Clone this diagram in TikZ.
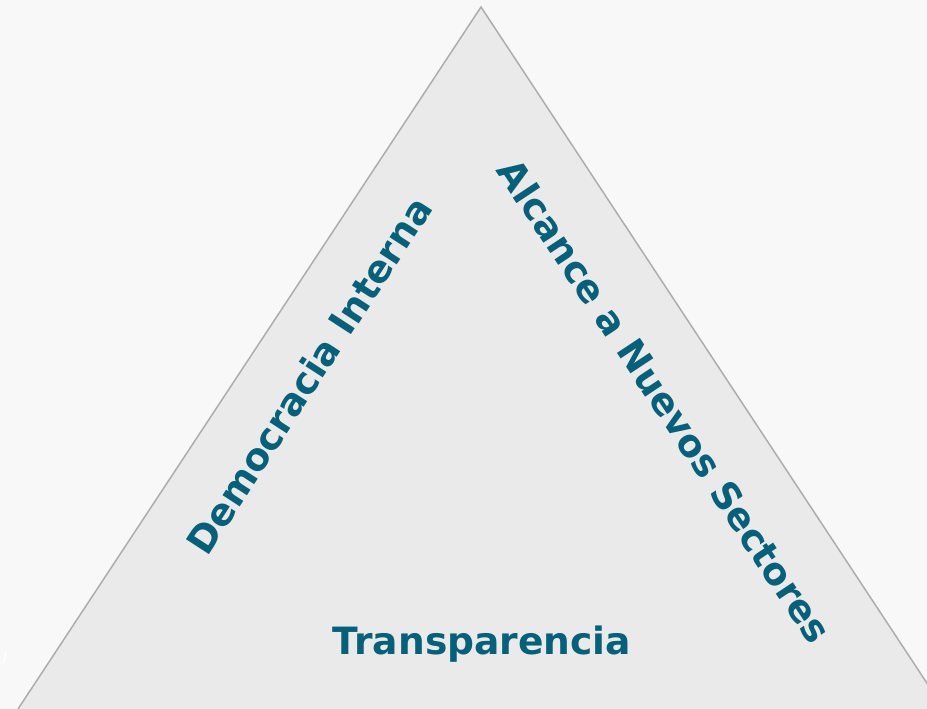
\documentclass[tikz,border=0pt]{standalone}
\usepackage{fontspec}
\setmainfont{DejaVu Sans}
\definecolor{bgc}{HTML}{F8F8F8}
\definecolor{trif}{HTML}{EAEAEA}
\definecolor{tril}{HTML}{ADADAD}
\definecolor{teal}{HTML}{06607A}
\begin{document}
\begin{tikzpicture}[x=1pt,y=-1pt,
  lbl/.style={font=\bfseries\fontsize{37.6}{37.6}\selectfont, text=teal, inner sep=0pt}]
\useasboundingbox (0,0) rectangle (927,709);
\fill[bgc] (0,0) rectangle (927,709);
\begin{scope}
\clip (0,0) rectangle (927,709);
\coordinate (apex) at (481,7);
\coordinate (bl) at (18,709);
\coordinate (br) at (944,709);
\draw[tril, fill=trif, line width=1.5pt] (bl) -- (apex) -- (br);
\end{scope}
\node[lbl] (trans) at (482,644) {Transparencia};
\node[lbl, rotate=57] (demo) at (309,375) {Democracia Interna};
\node[lbl, rotate=-56.5] (alc) at (665,401) {Alcance a Nuevos Sectores};
\node[text=white, font=\itshape\fontsize{16}{16}\selectfont, inner sep=0pt] (i) at (5,658) {I};
\end{tikzpicture}
\end{document}
